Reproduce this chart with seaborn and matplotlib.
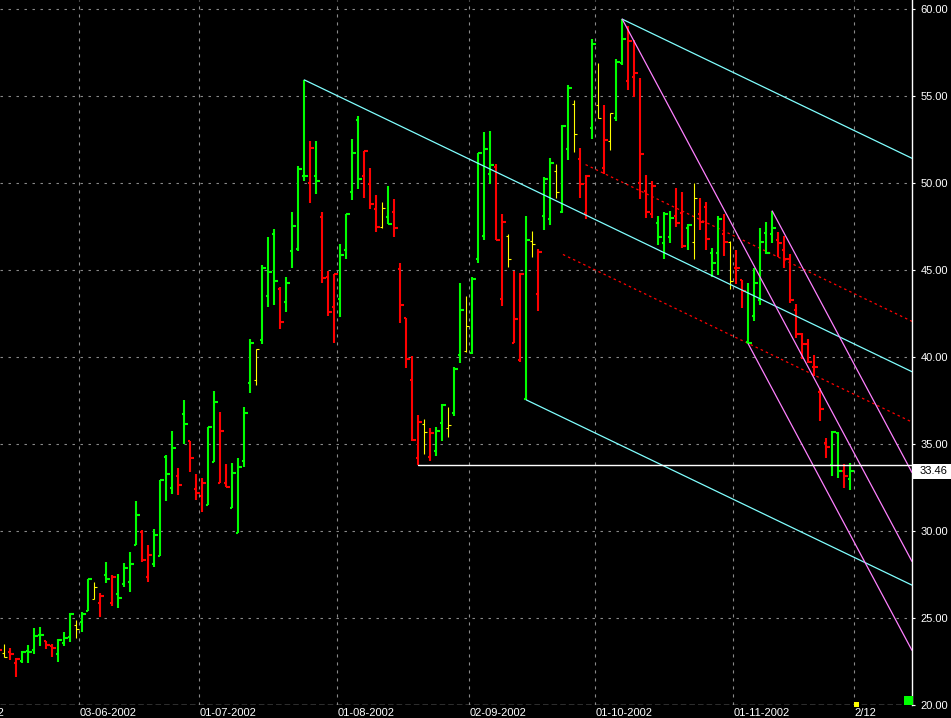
import numpy as np
import pandas as pd
import matplotlib
matplotlib.use("Agg")
import matplotlib.pyplot as plt
from matplotlib.patches import Rectangle
from matplotlib.transforms import blended_transform_factory
import seaborn as sns

# daily OHLC bars, bar index -1 is the one cut by the left border
first_bar = -1
opens = [23.25, 22.99, 23.08, 22.45, 22.57, 23.14, 23.18, 24.06, 23.72, 23.43,
         22.93, 23.60, 23.95, 24.62, 24.77, 25.42, 26.09, 25.90, 27.49, 25.90,
         26.40, 26.97, 27.11, 29.21, 29.98, 27.39, 28.12, 28.58, 34.29, 32.51,
         33.20, 36.76, 35.19, 32.45, 32.05, 31.53, 33.98, 32.80, 32.80, 31.36,
         29.92, 34.06, 38.54, 38.68, 41.02, 43.52, 47.11, 43.95, 43.20, 46.13,
         46.23, 50.44, 50.04, 50.44, 48.08, 44.60, 42.91, 43.37, 46.19, 49.48,
         53.64, 50.42, 49.98, 48.51, 47.47, 48.08, 48.37, 45.10, 42.24, 38.70,
         34.23, 36.17, 34.29, 34.64, 36.25, 35.92, 36.78, 40.15, 40.36, 40.23,
         45.67, 46.99, 50.54, 50.96, 43.37, 46.97, 40.84, 39.85, 37.61, 46.69,
         43.66, 48.12, 47.95, 50.73, 48.35, 51.95, 54.56, 51.38, 48.28, 53.20,
         54.48, 50.86, 52.43, 53.77, 56.90, 55.90, 56.13, 50.00, 49.58, 48.24,
         47.70, 46.55, 46.93, 48.14, 48.31, 47.41, 46.65, 48.24, 48.66, 45.98,
         46.02, 47.07, 46.61, 45.11, 44.44, 40.85, 42.38, 43.30, 47.13, 47.10,
         46.74, 46.17, 45.63, 42.72, 41.34, 40.75, 39.46, 38.03, 35.08, 33.80,
         35.65, 33.45, 32.99]
highs = [23.35, 23.52, 23.28, 22.70, 23.12, 23.47, 24.44, 24.48, 23.72, 23.52,
         23.79, 24.20, 25.29, 24.90, 25.36, 27.28, 27.09, 26.44, 28.22, 27.47,
         27.53, 28.16, 28.79, 31.74, 30.08, 29.21, 30.11, 32.95, 34.39, 35.77,
         33.66, 37.55, 35.19, 33.29, 33.07, 36.02, 38.07, 36.88, 33.87, 33.91,
         34.23, 37.16, 41.03, 40.46, 45.31, 46.93, 47.36, 44.02, 44.62, 48.35,
         50.98, 55.94, 52.43, 52.43, 48.33, 44.96, 44.77, 46.51, 48.22, 52.55,
         53.87, 51.88, 50.86, 49.31, 48.93, 49.85, 49.10, 45.40, 42.24, 40.08,
         36.69, 36.44, 35.96, 35.98, 37.32, 37.16, 39.43, 44.27, 43.52, 44.64,
         51.76, 52.95, 53.01, 51.11, 48.24, 47.09, 44.96, 44.83, 48.12, 47.26,
         46.23, 50.34, 51.46, 51.11, 53.35, 55.65, 54.79, 52.05, 50.48, 58.28,
         56.93, 54.50, 54.02, 57.15, 59.43, 59.04, 58.24, 56.03, 50.48, 50.13,
         48.12, 48.37, 48.41, 49.75, 49.52, 47.64, 50.00, 49.18, 48.93, 46.30,
         48.12, 48.24, 46.69, 46.17, 44.44, 44.25, 45.11, 47.45, 47.76, 48.41,
         47.18, 46.97, 45.92, 43.07, 41.38, 41.03, 40.13, 38.22, 35.36, 35.77,
         35.71, 33.85, 33.93]
lows = [23.00, 22.80, 22.61, 21.65, 22.45, 22.45, 22.93, 23.43, 23.24, 22.80,
        22.51, 23.43, 23.66, 23.89, 24.23, 25.42, 26.09, 25.10, 27.05, 25.73,
        25.61, 26.82, 26.53, 29.21, 28.26, 27.11, 27.93, 28.58, 31.76, 32.15,
        32.09, 35.04, 33.43, 31.80, 31.13, 31.51, 33.97, 32.76, 32.53, 31.32,
        29.88, 33.68, 37.93, 38.39, 40.75, 42.91, 43.01, 41.65, 42.62, 45.15,
        46.13, 50.15, 48.89, 49.41, 44.25, 42.39, 40.80, 42.34, 45.67, 49.06,
        49.67, 49.18, 48.54, 47.22, 47.41, 47.64, 46.93, 41.99, 39.41, 35.21,
        33.81, 34.44, 34.04, 34.35, 35.21, 35.44, 36.65, 39.66, 40.33, 40.17,
        45.40, 46.71, 49.96, 46.71, 42.95, 45.21, 40.80, 39.75, 37.55, 45.79,
        42.66, 47.32, 47.61, 49.18, 48.31, 51.34, 51.82, 49.18, 47.93, 52.55,
        53.74, 50.54, 51.92, 53.60, 56.80, 55.36, 54.98, 49.08, 47.99, 47.99,
        46.46, 45.63, 46.55, 47.51, 46.26, 46.17, 45.63, 47.32, 46.17, 44.64,
        44.73, 45.84, 43.91, 44.20, 42.85, 40.77, 42.11, 43.01, 45.92, 46.55,
        45.79, 45.15, 43.10, 41.09, 39.88, 39.66, 38.95, 36.36, 34.23, 33.16,
        33.08, 32.51, 32.36]
closes = [23.18, 22.80, 22.93, 22.66, 23.05, 23.08, 23.98, 24.06, 23.47, 23.31,
          23.75, 23.89, 25.25, 24.37, 25.25, 27.28, 26.78, 26.28, 27.28, 27.39,
          26.19, 27.91, 28.14, 30.96, 28.35, 28.66, 29.81, 32.95, 33.31, 34.81,
          32.68, 36.19, 34.23, 32.22, 32.76, 36.02, 37.45, 35.79, 32.57, 33.37,
          33.72, 36.82, 40.84, 40.46, 45.15, 44.92, 44.41, 42.05, 44.29, 47.57,
          50.84, 50.44, 52.05, 50.15, 44.54, 42.59, 44.77, 45.90, 48.22, 51.72,
          50.27, 51.88, 48.79, 47.47, 48.56, 47.66, 47.41, 43.03, 39.89, 35.25,
          36.30, 35.69, 35.63, 35.79, 37.28, 36.11, 39.35, 42.72, 41.80, 44.52,
          51.76, 51.99, 51.02, 46.74, 47.78, 45.63, 42.22, 44.81, 46.74, 46.51,
          46.07, 50.25, 51.15, 49.48, 53.31, 55.50, 52.82, 49.96, 50.44, 58.01,
          53.74, 52.51, 54.02, 56.95, 58.30, 58.20, 56.32, 51.67, 48.37, 49.87,
          46.93, 48.22, 47.99, 47.70, 46.42, 47.61, 49.18, 47.76, 46.82, 45.44,
          47.95, 46.61, 44.41, 45.11, 43.81, 40.80, 44.25, 46.61, 46.02, 47.40,
          46.55, 45.65, 43.30, 41.34, 40.75, 39.71, 39.46, 37.03, 34.87, 35.70,
          33.45, 33.16, 33.46]
# g = green, r = red, y = yellow bar
bar_colors = ("r y r r g g g g r r g g g y g g y r g r g g g g r r g g g g "
              "r g r r r g g r r g g g g y g g g r g g g g r g r r r g g g "
              "g r r r y g r r r r r y r g g y g g y g g g g r r y r r g y "
              "r g g y g g y r r g y r y g g r r r r r g g g r r g y r r g "
              "g r y r r g g g g g r r r r r r r r r g g r g").split()

# date axis: positions in bar index units
date_labels = ["01-05-2002", "03-06-2002", "01-07-2002", "01-08-2002",
               "02-09-2002", "01-10-2002", "01-11-2002", "2/12"]
date_pos = [-9.5, 12.5, 32.5, 55.5, 77.5, 98.5, 121.5, 141.7]
price_ticks = [20, 25, 30, 35, 40, 45, 50, 55, 60]

# Andrews pitchforks: (pivot bar, 'h' high / 'l' low)
fork_cyan = [(50, "h"), (87, "l"), (103, "h")]
fork_violet = [(103, "h"), (124, "l"), (128, "h")]
fib_levels = [0.382, 0.618]
support_bar = 69

# little signal squares on the bottom edge
signal_idx = [142.1, 150.7]
signal_price = [20.05, 20.28]
signal_colors = ["#ffff00", "#00ff00"]
signal_sizes = [14, 40]

palette = {"g": "#00ff00", "r": "#ff0000", "y": "#ffff00"}

sns.set_style("dark", {"axes.facecolor": "black", "figure.facecolor": "black"})
plt.rcParams["font.family"] = ["Liberation Sans", "DejaVu Sans"]

fig = plt.figure(figsize=(9.51, 7.18), dpi=100)
ax = fig.add_axes([0, 12.7 / 718, 912 / 951, 705.3 / 718])
ax.set_facecolor("black")

x_left, x_right = -0.72, 151.3
ax.set_xlim(x_left, x_right)
ax.set_ylim(20, 60.53)

# grid
for p in price_ticks[1:]:
    ax.axhline(p, color="#8a8a8a", lw=0.8, linestyle=(0, (2.2, 5)), zorder=0)
ax.axhline(20, color="#e6e6e6", lw=1.0, linestyle=(0, (4, 2.2)), zorder=0)
for d in date_pos:
    ax.axvline(d, color="#8a8a8a", lw=0.8, linestyle=(0, (2.8, 4.4)), zorder=0)

# bars as short segments
idx = np.arange(first_bar, first_bar + len(opens))
rows = []
seg = 0
for i, o, h, l, c, col in zip(idx, opens, highs, lows, closes, bar_colors):
    wl, wr = (0.38, 0.38) if col == "y" else (0.45, 0.55)
    for xs, ys in (((i, i), (l, h)), ((i - wl, i), (o, o)), ((i, i + wr), (c, c))):
        rows.append({"x": xs[0], "y": ys[0], "seg": seg, "col": col})
        rows.append({"x": xs[1], "y": ys[1], "seg": seg, "col": col})
        seg += 1
bars = pd.DataFrame(rows)

for col, grp in bars.groupby("col"):
    sns.lineplot(data=grp, x="x", y="y", units="seg", estimator=None, sort=False,
                 color=palette[col], lw=0.8 if col == "y" else 1.5,
                 solid_capstyle="butt", ax=ax, legend=False, zorder=3)


def pivot(bar, kind):
    k = bar - first_bar
    return float(bar), highs[k] if kind == "h" else lows[k]


def pitchfork(pivots):
    (x1, y1), (x2, y2), (x3, y3) = [pivot(*p) for p in pivots]
    mx, my = (x2 + x3) / 2, (y2 + y3) / 2
    slope = (my - y1) / (mx - x1)
    lines = []
    for x0, y0 in ((x1, y1), (x2, y2), (x3, y3)):
        lines.append(([x0, x_right], [y0, y0 + slope * (x_right - x0)]))
    fibs = []
    for f in fib_levels:
        x0, y0 = x2 + f * (x3 - x2), y2 + f * (y3 - y2)
        fibs.append(([x0, x_right], [y0, y0 + slope * (x_right - x0)]))
    return lines, fibs


def to_frame(lines):
    out = []
    for n, (xs, ys) in enumerate(lines):
        for xv, yv in zip(xs, ys):
            out.append({"x": xv, "y": yv, "seg": n})
    return pd.DataFrame(out)


cyan_lines, cyan_fibs = pitchfork(fork_cyan)
violet_lines, _ = pitchfork(fork_violet)

sns.lineplot(data=to_frame(cyan_lines), x="x", y="y", units="seg", estimator=None,
             sort=False, color="#80ffff", lw=0.9, ax=ax, legend=False, zorder=4)
sns.lineplot(data=to_frame(violet_lines), x="x", y="y", units="seg", estimator=None,
             sort=False, color="#ff80ff", lw=0.9, ax=ax, legend=False, zorder=4)
sns.lineplot(data=to_frame(cyan_fibs), x="x", y="y", units="seg", estimator=None,
             sort=False, color="#ff0000", lw=0.9, linestyle=(0, (2, 2.5)),
             ax=ax, legend=False, zorder=2)

# horizontal support from the August low
sup_low = lows[support_bar - first_bar]
ax.plot([support_bar, x_right], [sup_low, sup_low], color="white", lw=1.0, zorder=4)

# signal squares
ax.scatter(signal_idx, signal_price, c=signal_colors, s=signal_sizes, marker="s",
           linewidths=0, clip_on=False, zorder=6)

# axes styling
ax.set_xlabel("")
ax.set_ylabel("")
ax.set_xticks([])
ax.yaxis.tick_right()
ax.set_yticks(price_ticks)
ax.set_yticklabels([f"{p:.2f}" for p in price_ticks])
ax.tick_params(axis="y", colors="white", labelcolor="white", labelsize=8,
               length=2.2, width=0.8, pad=4, right=True, left=False)
for side in ("top", "left", "bottom"):
    ax.spines[side].set_visible(False)
ax.spines["right"].set_visible(True)
ax.spines["right"].set_color("white")
ax.spines["right"].set_linewidth(1.0)
ax.grid(False)

trans = blended_transform_factory(ax.transData, ax.transAxes)
for lab, pos in zip(date_labels, date_pos):
    ax.annotate(lab, xy=(pos, 0), xycoords=trans, xytext=(0, -1.6),
                textcoords="offset points", ha="left", va="top",
                color="white", fontsize=8, annotation_clip=False)

# last price box
last_close = closes[-1]
ytrans = blended_transform_factory(ax.transAxes, ax.transData)
ax.add_patch(Rectangle((1.001, last_close - 0.43), 0.045, 0.86, transform=ytrans,
                       facecolor="white", edgecolor="none", clip_on=False, zorder=7))
ax.text(1.0235, last_close, f"{last_close:.2f}", transform=ytrans, ha="center",
        va="center", color="black", fontsize=8, zorder=8)

fig.savefig("out.png", dpi=100, facecolor="black")
